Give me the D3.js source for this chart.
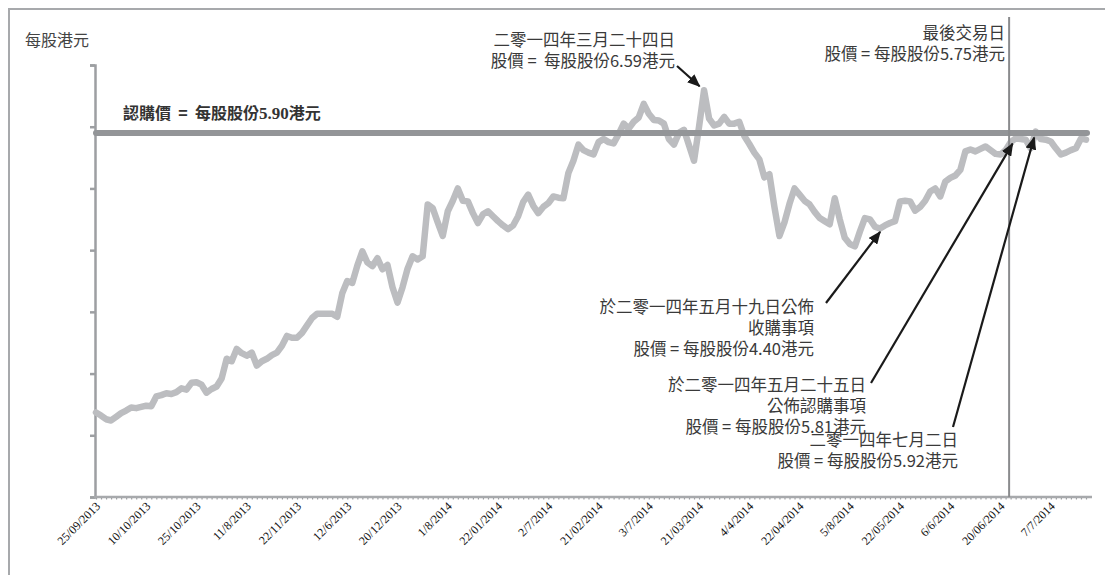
<!DOCTYPE html>
<html>
<head>
<meta charset="utf-8">
<script src="https://cdn.jsdelivr.net/npm/d3@7"></script>
<style>
	body { margin: 0; background: #fff; }
	svg text { font-family: "Noto Sans CJK TC", "Noto Sans", sans-serif; white-space: pre; }
</style>
</head>
<body>
<div id="chart"></div>
<script>
// share price (HK$) per trading day, 25/09/2013 onwards
var prices = [
	1.37, 1.32, 1.26, 1.24, 1.30, 1.36, 1.40, 1.45, 1.44, 1.46,
	1.48, 1.47, 1.63, 1.65, 1.68, 1.67, 1.70, 1.76, 1.74, 1.85,
	1.86, 1.82, 1.69, 1.75, 1.79, 1.92, 2.24, 2.20, 2.40, 2.33,
	2.29, 2.34, 2.13, 2.20, 2.24, 2.30, 2.34, 2.45, 2.61, 2.58,
	2.58, 2.66, 2.78, 2.90, 2.97, 2.97, 2.97, 2.97, 2.92, 3.30,
	3.50, 3.47, 3.75, 3.98, 3.80, 3.74, 3.87, 3.69, 3.76, 3.40,
	3.15, 3.40, 3.70, 3.90, 3.85, 3.90, 4.74, 4.68, 4.45, 4.23,
	4.63, 4.80, 5.00, 4.80, 4.79, 4.60, 4.44, 4.58, 4.63, 4.55,
	4.47, 4.40, 4.34, 4.40, 4.55, 4.78, 4.90, 4.72, 4.60, 4.70,
	4.76, 4.87, 4.85, 4.84, 5.25, 5.45, 5.71, 5.62, 5.58, 5.55,
	5.75, 5.80, 5.75, 5.73, 5.88, 6.05, 5.97, 6.08, 6.15, 6.37,
	6.21, 6.11, 6.10, 6.05, 5.80, 5.71, 5.90, 5.95, 5.70, 5.45,
	6.00, 6.59, 6.13, 6.02, 6.05, 6.16, 6.05, 6.05, 6.08, 5.85,
	5.72, 5.58, 5.47, 5.18, 5.23, 4.70, 4.23, 4.45, 4.75, 5.00,
	4.90, 4.80, 4.74, 4.62, 4.52, 4.47, 4.42, 4.84, 4.50, 4.20,
	4.10, 4.06, 4.30, 4.52, 4.50, 4.38, 4.35, 4.40, 4.44, 4.47,
	4.79, 4.80, 4.79, 4.64, 4.70, 4.80, 4.95, 5.00, 4.87, 5.11,
	5.17, 5.21, 5.30, 5.60, 5.63, 5.60, 5.64, 5.68, 5.62, 5.56,
	5.55, 5.62, 5.75, 5.81, 5.80, 5.79, 5.65, 5.92, 5.80, 5.79,
	5.76, 5.65, 5.55, 5.58, 5.62, 5.65, 5.81, 5.79
];

// one label every 10 trading days
var tickLabels = ["25/09/2013", "10/10/2013", "25/10/2013", "11/8/2013", "22/11/2013",
	"12/6/2013", "20/12/2013", "1/8/2014", "22/01/2014", "2/7/2014",
	"21/02/2014", "3/7/2014", "21/03/2014", "4/4/2014", "22/04/2014",
	"5/8/2014", "22/05/2014", "6/6/2014", "20/06/2014", "7/7/2014"];
var yTicks = [0, 1, 2, 3, 4, 5, 6, 7];

var subscriptionPrice = 5.90;
var lastTradingIdx = 182;

// arrows: trading-day index they point at, and the text block
var notes = [
	{ idx: 121, lines: ["二零一四年三月二十四日", "股價 =  每股股份6.59港元"] },
	{ idx: 157, lines: ["於二零一四年五月十九日公佈", "收購事項", "股價 = 每股股份4.40港元"] },
	{ idx: 183, lines: ["於二零一四年五月二十五日", "公佈認購事項", "股價 = 每股股份5.81港元"] },
	{ idx: 187, lines: ["二零一四年七月二日", "股價 = 每股股份5.92港元"] }
];
var lastDayLines = ["最後交易日", "股價 = 每股股份5.75港元"];

var W = 1105, H = 575;

var svg = d3.select("#chart").append("svg")
	.attr("width", W)
	.attr("height", H);

svg.append("defs").append("marker")
	.attr("id", "arrow")
	.attr("markerUnits", "userSpaceOnUse")
	.attr("viewBox", "0 0 12 10")
	.attr("refX", 11)
	.attr("refY", 5)
	.attr("markerWidth", 13)
	.attr("markerHeight", 11)
	.attr("orient", "auto")
	.append("path")
	.attr("d", "M0,0 L12,5 L0,10 Z")
	.attr("fill", "#1a1a1a");

// frame
svg.append("rect")
	.attr("x", 9).attr("y", 9)
	.attr("width", W + 20).attr("height", H + 20)
	.attr("fill", "none")
	.attr("stroke", "#a7a9ac")
	.attr("stroke-width", 2);

var x = d3.scaleLinear()
	.domain([0, prices.length - 1])
	.range([96, 1086]);

var y = d3.scaleLinear()
	.domain([0, 7])
	.range([497, 65]);

// y axis, no labels
var yAxis = svg.append("g")
	.attr("transform", "translate(95,0)")
	.call(d3.axisLeft(y).tickValues(yTicks).tickSize(5).tickFormat(""));
yAxis.select(".domain").attr("stroke", "#9d9fa2").attr("stroke-width", 2.5);
yAxis.selectAll(".tick line").attr("stroke", "#9d9fa2").attr("stroke-width", 2.5);

// x axis: tiny tick per trading day
var xAxis = svg.append("g")
	.attr("transform", "translate(0,497)")
	.call(d3.axisBottom(x).tickValues(d3.range(prices.length)).tickSize(2.5).tickFormat("").tickSizeOuter(0));
xAxis.select(".domain").attr("stroke", "#a7a9ac").attr("stroke-width", 2.5)
	.attr("d", "M94,0H1092");
xAxis.selectAll(".tick line").attr("stroke", "#9d9fa2").attr("stroke-width", 1.2)
	.attr("y1", 1);

// date labels
svg.selectAll(".xlab")
	.data(tickLabels)
	.enter().append("text")
	.attr("class", "xlab")
	.attr("transform", function(d, i) {
		return "translate(" + (x(i * 10) + 5) + ",507)rotate(-45)";
	})
	.attr("text-anchor", "end")
	.style("font-family", "'Liberation Serif', 'Times New Roman', serif")
	.style("font-size", "12px")
	.attr("fill", "#111")
	.text(function(d) { return d; });

// price line
var line = d3.line()
	.x(function(d, i) { return x(i); })
	.y(function(d) { return y(d); });

svg.append("path")
	.datum(prices)
	.attr("d", line)
	.attr("fill", "none")
	.attr("stroke", "#bcbdc0")
	.attr("stroke-width", 6.5)
	.attr("stroke-linejoin", "round")
	.attr("stroke-linecap", "round");

// subscription price line
svg.append("line")
	.attr("x1", x(0)).attr("x2", x(prices.length - 1) + 1)
	.attr("y1", y(subscriptionPrice)).attr("y2", y(subscriptionPrice))
	.attr("stroke", "#939598")
	.attr("stroke-width", 6)
	.attr("stroke-linecap", "round");

svg.append("text")
	.attr("x", 123).attr("y", 119)
	.attr("fill", "#333")
	.style("font-size", "16px")
	.style("font-weight", "bold")
	.call(function(t) {
		t.append("tspan").text("認購價  =  每股股份");
		t.append("tspan").style("font-family", "'Liberation Serif', serif").style("font-size", "17px").text("5.90");
		t.append("tspan").text("港元");
	});

// last trading day marker
svg.append("line")
	.attr("x1", x(lastTradingIdx) - 1.5).attr("x2", x(lastTradingIdx) - 1.5)
	.attr("y1", 17).attr("y2", 497)
	.attr("stroke", "#8a8b8d")
	.attr("stroke-width", 2);

// y title
svg.append("text")
	.attr("x", 25).attr("y", 46)
	.attr("fill", "#444")
	.style("font-size", "16px")
	.text("每股港元");

function textBlock(lines, right, top) {
	var t = svg.append("text")
		.attr("text-anchor", "end")
		.attr("fill", "#3a3a3a")
		.style("font-size", "16.5px");
	lines.forEach(function(s, i) {
		t.append("tspan").attr("x", right).attr("y", top + i * 21).text(s);
	});
}

textBlock(lastDayLines, 1005, 39);

// where each note's text sits and where its arrow starts
var layout = [
	{ right: 675, top: 46, tail: [677, 66], gap: 6 },
	{ right: 814, top: 313, tail: [826, 303], gap: 8 },
	{ right: 866, top: 391, tail: [871, 383], gap: 6 },
	{ right: 958, top: 446, tail: [953, 427], gap: 6 }
];

notes.forEach(function(n, i) {
	var L = layout[i];
	textBlock(n.lines, L.right, L.top);
	var tx = x(n.idx), ty = y(prices[n.idx]);
	var dx = tx - L.tail[0], dy = ty - L.tail[1];
	var len = Math.sqrt(dx * dx + dy * dy);
	svg.append("line")
		.attr("x1", L.tail[0]).attr("y1", L.tail[1])
		.attr("x2", tx - dx / len * L.gap).attr("y2", ty - dy / len * L.gap)
		.attr("stroke", "#1a1a1a")
		.attr("stroke-width", 2.2)
		.attr("marker-end", "url(#arrow)");
});
</script>
</body>
</html>
